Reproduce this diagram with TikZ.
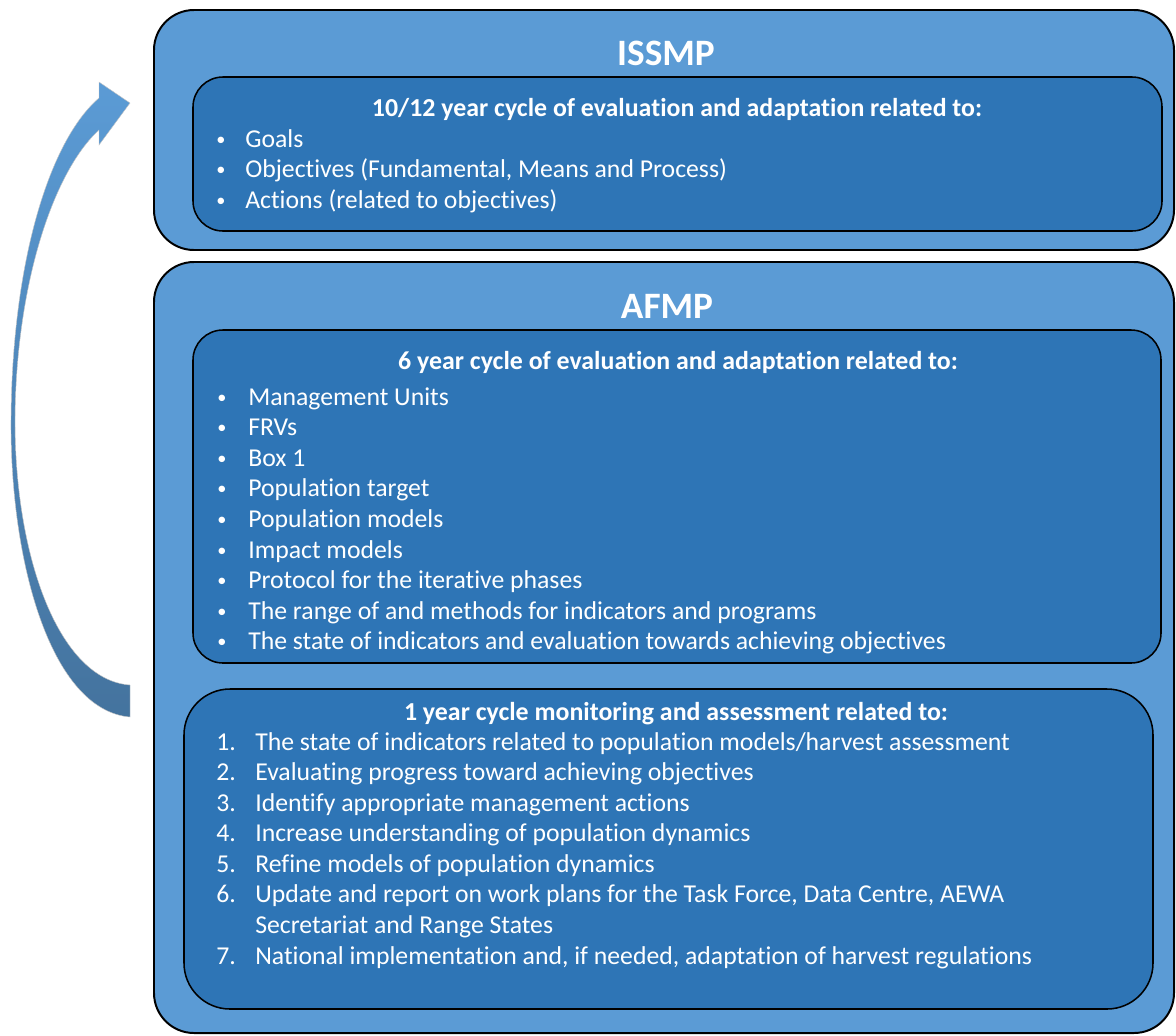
\documentclass[tikz,border=0pt]{standalone}
\usepackage{fontspec}
\setmainfont[Ligatures=NoCommon]{Carlito}
\definecolor{outerblue}{HTML}{5B9BD5}
\definecolor{innerblue}{HTML}{2E75B6}
\definecolor{arrowdark}{HTML}{44739E}

\begin{document}
\begin{tikzpicture}[x=0.025cm, y=-0.025cm,
    outerbox/.style={draw=black, line width=1.4pt, fill=outerblue, rounded corners=1cm},
    innerbox/.style={draw=black, line width=1.1pt, fill=innerblue, rounded corners=0.75cm},
    title/.style={text=white, font=\fontsize{26.5}{31}\selectfont\bfseries, anchor=base, inner sep=0pt},
    heading/.style={text=white, font=\fontsize{18.4}{22}\selectfont\bfseries, anchor=base, inner sep=0pt},
    entry/.style={text=white, font=\fontsize{18.3}{22}\selectfont, anchor=base west, inner sep=0pt},
    dot/.style={text=white, font=\fontsize{13}{15}\selectfont, anchor=base, inner sep=0pt}
    ]
    \useasboundingbox (0,0) rectangle (1176,1035);

    % Curved arrow (1 year -> 10/12 year)
    \shade[top color=outerblue, bottom color=arrowdark, draw=gray!45, line width=0.3pt]
        (130,717) .. controls (50,710) and (10,560) .. (11,420)
        .. controls (12,260) and (50,140) .. (99,98)
        -- (99,82) -- (130,103) -- (99,145) -- (99,130)
        .. controls (55,170) and (16,280) .. (15,420)
        .. controls (15,560) and (60,680) .. (130,685) -- cycle;

    % ISSMP
    \draw[outerbox] (154,10) rectangle (1174,250);
    \draw[innerbox] (193,77) rectangle (1162,231);
    \node[title] (issmp) at (666,65) {ISSMP};
    \node[heading] (isshead) at (677,116) {10/12 year cycle of evaluation and adaptation related to:};
    \foreach \txt [count=\i from 0] in {Goals, {Objectives (Fundamental, Means and Process)}, {Actions (related to objectives)}}
    {
        \node[dot] at (221,{145+30.5*\i}) {\textbullet};
        \node[entry] (iss\i) at (245,{147+30.5*\i}) {\txt};
    }

    % AFMP
    \draw[outerbox] (154,262) rectangle (1174,1033);
    \draw[innerbox] (193,330) rectangle (1161,663);
    \draw[innerbox, rounded corners=1.15cm] (184,689) rectangle (1153,1009);
    \node[title] (afmp) at (667,318) {AFMP};
    \node[heading] (sixhead) at (678,369) {6 year cycle of evaluation and adaptation related to:};
    \foreach \txt [count=\i from 0] in {Management Units, FRVs, Box 1, Population target,
        Population models, Impact models, Protocol for the iterative phases,
        The range of and methods for indicators and programs,
        The state of indicators and evaluation towards achieving objectives}
    {
        \node[dot] at (222,{403+30.6*\i}) {\textbullet};
        \node[entry] (six\i) at (248,{405+30.6*\i}) {\txt};
    }

    % 1 year cycle
    \node[heading] (onehead) at (676,720) {1 year cycle monitoring and assessment related to:};
    \foreach \txt [count=\i] in {The state of indicators related to population models/harvest assessment,
        Evaluating progress toward achieving objectives,
        Identify appropriate management actions,
        Increase understanding of population dynamics,
        Refine models of population dynamics,
        {Update and report on work plans for the Task Force, Data Centre, AEWA}}
    {
        \node[entry] at (216,{750+30.57*(\i-1)}) {\i.};
        \node[entry] (one\i) at (255,{750+30.57*(\i-1)}) {\txt};
    }
    \node[entry] (one6b) at (255,933) {Secretariat and Range States};
    \node[entry] at (216,964) {7.};
    \node[entry] (one7) at (255,964) {National implementation and, if needed, adaptation of harvest regulations};
\end{tikzpicture}
\end{document}
